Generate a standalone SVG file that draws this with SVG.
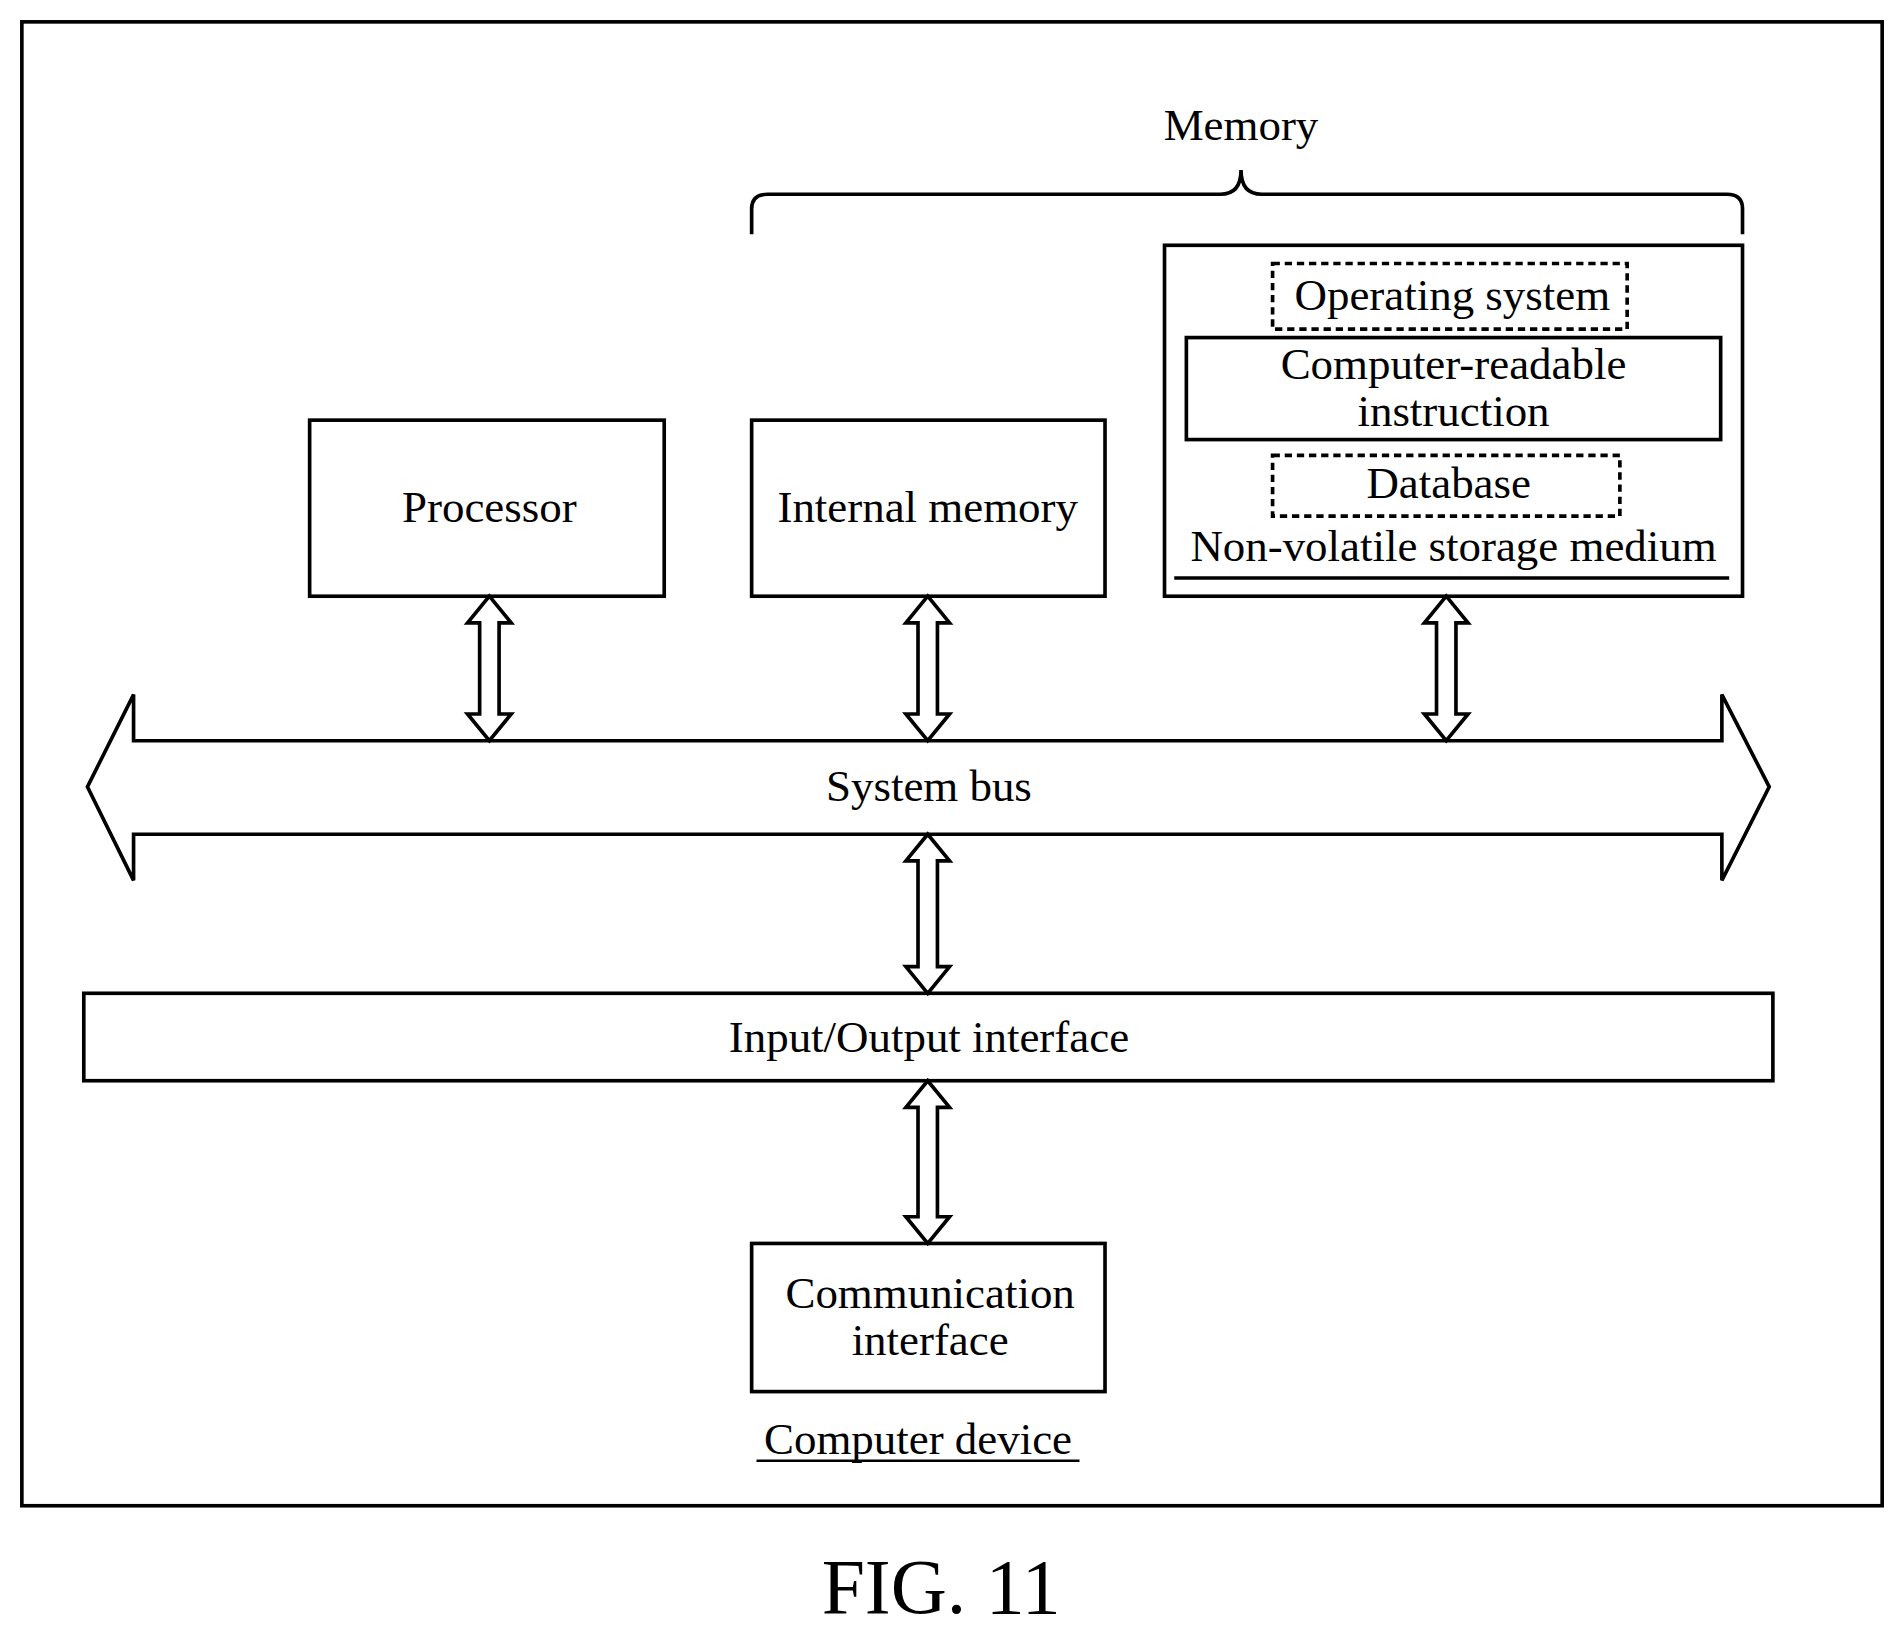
<svg xmlns="http://www.w3.org/2000/svg" width="1904" height="1633" viewBox="0 0 1904 1633">
<style>
.b{fill:#fff;stroke:#000;stroke-width:3}
.d{fill:none;stroke:#000;stroke-width:3;stroke-dasharray:6,4}
text{font-family:"Liberation Serif",serif;font-size:37px;text-anchor:middle;fill:#000}
</style>
<rect width="1904" height="1633" fill="#fff"/>
<g transform="scale(1.2143)">
<rect x="18" y="18" width="1532" height="1222" fill="none" stroke="#000" stroke-width="3"/>
<g id="memory">
<text x="1022" y="115">Memory</text>
<path d="M619,193 V172 Q619,160 632,160 H1005 Q1022,160 1022,140 Q1022,160 1039,160 H1422 Q1435,160 1435,172 V193" fill="none" stroke="#000" stroke-width="3"/>
</g>
<g id="processor"><rect class="b" x="255" y="346" width="292" height="145"/><text x="403" y="430">Processor</text></g>
<g id="internal"><rect class="b" x="619" y="346" width="291" height="145"/><text x="764" y="430">Internal memory</text></g>
<g id="nvs">
<rect class="b" x="959" y="202" width="476" height="289"/>
<rect class="d" x="1048" y="217" width="292" height="54"/><text x="1196" y="255">Operating system</text>
<rect class="b" x="977" y="278" width="440" height="84"/><text x="1197" y="312">Computer-readable</text><text x="1197" y="351">instruction</text>
<rect class="d" x="1048" y="375" width="286" height="50"/><text x="1193" y="410">Database</text>
<text x="1197" y="462">Non-volatile storage medium</text>
<line x1="967" y1="476" x2="1424" y2="476" stroke="#000" stroke-width="3"/>
</g>
<g id="bus">
<path class="b" d="M72,648 L110,572 V610 H1418 V572 L1457,648 L1418,725 V687 H110 V725 Z"/>
<text x="765" y="660">System bus</text>
</g>
<g id="io"><rect class="b" x="69" y="818" width="1391" height="72"/><text x="765" y="866">Input/Output interface</text></g>
<g id="comm"><rect class="b" x="619" y="1024" width="291" height="122"/><text x="766" y="1077">Communication</text><text x="766" y="1116">interface</text></g>
<g id="connectors">
<path class="b" d="M403,491 L421,513 L411,513 L411,588 L421,588 L403,610 L385,588 L395,588 L395,513 L385,513 Z"/>
<path class="b" d="M764,491 L782,513 L772,513 L772,588 L782,588 L764,610 L746,588 L756,588 L756,513 L746,513 Z"/>
<path class="b" d="M1191,491 L1209,513 L1199,513 L1199,588 L1209,588 L1191,610 L1173,588 L1183,588 L1183,513 L1173,513 Z"/>
<path class="b" d="M764,687 L782,709 L772,709 L772,796 L782,796 L764,818 L746,796 L756,796 L756,709 L746,709 Z"/>
<path class="b" d="M764,890 L782,912 L772,912 L772,1002 L782,1002 L764,1024 L746,1002 L756,1002 L756,912 L746,912 Z"/>
</g>
<text x="756" y="1197">Computer device</text>
<line x1="623" y1="1203" x2="889" y2="1203" stroke="#000" stroke-width="2"/>
<text x="775" y="1328" style="font-size:64px">FIG. 11</text>
</g>
</svg>
